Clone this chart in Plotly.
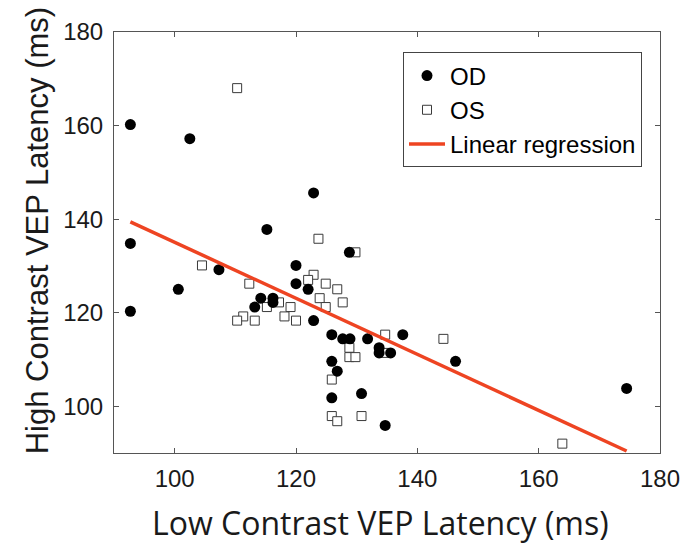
import plotly.graph_objects as go

# ---- data ----
od_x = [92.7, 102.5, 122.9, 92.7, 115.2, 128.8, 120.0, 107.3, 100.6, 92.7,
        120.0, 122.0, 114.2, 116.2, 116.2, 113.2, 122.9, 125.9, 127.7, 128.9,
        131.8, 137.6, 133.7, 133.7, 135.6, 125.9, 126.8, 130.8, 125.9, 134.7,
        146.3, 174.5]
od_y = [160.2, 157.2, 145.6, 134.8, 137.8, 132.9, 130.1, 129.2, 125.0, 120.3,
        126.2, 125.0, 123.1, 123.1, 122.2, 121.2, 118.3, 115.3, 114.4, 114.4,
        114.4, 115.3, 112.5, 111.4, 111.4, 109.6, 107.5, 102.7, 101.8, 95.9,
        109.6, 103.8]

os_x = [110.3, 123.7, 129.8, 104.5, 122.9, 122.0, 124.9, 126.8, 112.3, 117.2,
        123.9, 127.7, 124.9, 119.1, 115.2, 118.1, 111.3, 110.3, 113.2, 120.0,
        134.7, 144.3, 128.8, 134.7, 128.8, 129.8, 125.9, 125.9, 126.8, 130.8,
        163.9]
os_y = [168.0, 135.8, 132.9, 130.1, 128.1, 127.0, 126.2, 125.0, 126.2, 122.2,
        123.1, 122.2, 121.2, 121.2, 121.2, 119.2, 119.2, 118.3, 118.3, 118.3,
        115.3, 114.4, 112.5, 111.4, 110.5, 110.5, 105.7, 97.9, 96.8, 97.9,
        92.0]

reg_slope = -0.599
reg_intercept = 194.95

x_ticks = [100, 120, 140, 160, 180]
y_ticks = [100, 120, 140, 160, 180]

x_title = "Low Contrast VEP Latency (ms)"
y_title = "High Contrast VEP Latency (ms)"

# ---- figure ----
all_x = od_x + os_x
line_x = [min(all_x), max(all_x)]
line_y = [reg_intercept + reg_slope * v for v in line_x]

fig = go.Figure()
fig.add_trace(go.Scatter(
    x=os_x, y=os_y, mode="markers", name="OS", legendrank=2,
    marker=dict(symbol="square", size=9, color="white",
                line=dict(color="#3a3a3a", width=1)),
))
fig.add_trace(go.Scatter(
    x=od_x, y=od_y, mode="markers", name="OD", legendrank=1,
    marker=dict(symbol="circle", size=11, color="black",
                line=dict(width=0)),
))
fig.add_trace(go.Scatter(
    x=line_x, y=line_y, mode="lines", name="Linear regression", legendrank=3,
    line=dict(color="#EE4422", width=3.5),
))

axis_common = dict(
    showgrid=False, zeroline=False, showline=True, linecolor="#555555",
    linewidth=1, mirror="allticks", ticks="inside", ticklen=5,
    tickcolor="#555555", automargin=False,
    tickfont=dict(family="Liberation Sans, Arial", size=24, color="#1a1a1a"),
)

# page body has an 8px margin -> work in window coords, shift by OFF
OFF = 8
W, H = 697 - OFF, 544 - OFF
PL, PT, PR, PB = 114, 31.5, 660, 453   # plot box in window coords
L, T = PL - OFF, PT - OFF
R, B = W - (PR - OFF), H - (PB - OFF)
PW, PH = PR - PL, PB - PT


def px(xw):
    return (xw - PL) / PW


def py(yw):
    return (PB - yw) / PH


fig.update_layout(
    width=W, height=H,
    margin=dict(l=L, r=R, t=T, b=B, pad=0),
    paper_bgcolor="white", plot_bgcolor="white",
    showlegend=True,
    legend=dict(
        x=px(403), y=py(52), xanchor="left", yanchor="top",
        bordercolor="#444444", borderwidth=1, bgcolor="white",
        font=dict(family="Liberation Sans, Arial", size=24, color="black"),
        tracegroupgap=0, itemwidth=36,
    ),
    xaxis=dict(range=[90, 180], tickvals=x_ticks, ticklabelstandoff=4,
               **axis_common),
    yaxis=dict(range=[90, 180], tickvals=y_ticks, ticklabelstandoff=5,
               **axis_common),
    annotations=[
        dict(text=x_title, xref="paper", yref="paper", x=px(380),
             y=py(523), xanchor="center", yanchor="middle",
             showarrow=False, font=dict(family="Open Sans", size=32, color="#1a1a1a")),
        dict(text=y_title, xref="paper", yref="paper", x=px(37),
             y=py(231), xanchor="center", yanchor="middle",
             textangle=-90, showarrow=False,
             font=dict(family="Liberation Sans, Arial", size=31, color="#1a1a1a")),
    ],
)

fig.write_html("out.html")
